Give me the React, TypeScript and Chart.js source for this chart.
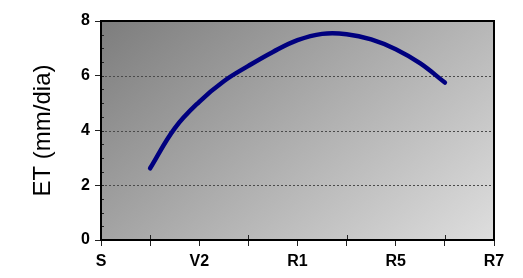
import React, { useEffect, useRef } from "react";
import { Chart, registerables } from "chart.js";

Chart.register(...registerables);

// Stage positions: 0=S, 2=V2, 4=R1, 6=R5, 8=R7
const stageLabels: Record<number, string> = { 0: "S", 2: "V2", 4: "R1", 6: "R5", 8: "R7" };
const stagePos = [1, 1.5, 2, 2.5, 3, 3.5, 4, 4.5, 5, 5.5, 6, 6.5, 7];
const etValues = [2.62, 4.08, 5.05, 5.8, 6.36, 6.87, 7.3, 7.53, 7.52, 7.33, 6.97, 6.45, 5.75];
const yTicks = [0, 2, 4, 6, 8];

const FONT = "'Liberation Sans', Arial, Helvetica, sans-serif";

const framePlugin = {
  id: "framePlugin",
  beforeDatasetsDraw(chart: any) {
    const { ctx, chartArea } = chart;
    const { left, top, right, bottom } = chartArea;
    const w = right - left;
    const h = bottom - top;
    ctx.save();
    const g = ctx.createLinearGradient(left, top, left + w * 0.685, top + h * 1.47);
    g.addColorStop(0, "#7d7d7d");
    g.addColorStop(1, "#dedede");
    ctx.fillStyle = g;
    ctx.fillRect(left, top, w, h);
    // dotted grid lines
    const ys = chart.scales.y;
    ctx.strokeStyle = "#4a4a4a";
    ctx.lineWidth = 1;
    ctx.setLineDash([2, 2]);
    [2, 4, 6].forEach((v) => {
      const py = Math.round(ys.getPixelForValue(v)) + 0.5;
      ctx.beginPath();
      ctx.moveTo(left, py);
      ctx.lineTo(right, py);
      ctx.stroke();
    });
    ctx.setLineDash([]);
    // minor ticks inside on y axis
    ctx.strokeStyle = "#222";
    for (let v = 0.5; v < 8; v += 0.5) {
      const py = Math.round(ys.getPixelForValue(v)) + 0.5;
      ctx.beginPath();
      ctx.moveTo(left, py);
      ctx.lineTo(left + 3, py);
      ctx.stroke();
    }
    // minor ticks inside on x axis
    const xs = chart.scales.x;
    for (let v = 1; v < 8; v += 2) {
      const px = Math.round(xs.getPixelForValue(v)) + 0.5;
      ctx.beginPath();
      ctx.moveTo(px, bottom);
      ctx.lineTo(px, bottom - 5);
      ctx.stroke();
    }
    ctx.restore();
  },
  afterDraw(chart: any) {
    const { ctx, chartArea } = chart;
    const { left, top, right, bottom } = chartArea;
    ctx.save();
    ctx.strokeStyle = "#000";
    ctx.lineWidth = 2;
    ctx.strokeRect(left, top, right - left, bottom - top);
    ctx.restore();
  },
};

export default function App() {
  const ref = useRef<HTMLCanvasElement>(null);
  useEffect(() => {
    if (!ref.current) return;
    const chart = new Chart(ref.current, {
      type: "scatter",
      data: {
        datasets: [
          {
            data: stagePos.map((x, i) => ({ x, y: etValues[i] })),
            showLine: true,
            borderColor: "#00007f",
            borderWidth: 4.5,
            pointRadius: 0,
            tension: 0.4,
            borderCapStyle: "round",
            borderJoinStyle: "round",
          } as any,
        ],
      },
      options: {
        animation: false,
        responsive: true,
        maintainAspectRatio: false,
        layout: { padding: { left: 0, right: 29, top: 21, bottom: 0 } },
        plugins: { legend: { display: false }, tooltip: { enabled: false } },
        scales: {
          x: {
            type: "linear",
            min: 0,
            max: 8,
            afterFit: (s: any) => {
              s.height = 38;
            },
            ticks: {
              stepSize: 1,
              autoSkip: false,
              maxRotation: 0,
              padding: 6,
              color: "#000",
              font: { family: FONT, size: 16, weight: "bold" },
              callback: (v: any) => stageLabels[v as number] ?? "",
            },
            grid: { drawOnChartArea: false, drawTicks: true, tickLength: 6, tickColor: "#222", color: "#222" },
            border: { display: false },
          },
          y: {
            min: 0,
            max: 8,
            afterFit: (s: any) => {
              s.width = 101;
            },
            afterBuildTicks: (s: any) => {
              s.ticks = yTicks.map((v) => ({ value: v }));
            },
            ticks: {
              stepSize: 2,
              padding: 5,
              color: "#000",
              font: { family: FONT, size: 16, weight: "bold" },
            },
            grid: { drawOnChartArea: false, drawTicks: true, tickLength: 6, tickColor: "#222", color: "#222" },
            border: { display: false },
            title: {
              display: true,
              text: "ET (mm/dia)",
              color: "#000",
              font: { family: FONT, size: 24, weight: "normal" },
              padding: { top: 29, bottom: 0 },
            },
          },
        },
      },
      plugins: [framePlugin],
    });
    return () => chart.destroy();
  }, []);
  return (
    <div style={{ position: "absolute", left: 0, top: 0, width: 523, height: 278, background: "#fff" }}>
      <canvas ref={ref} />
    </div>
  );
}
